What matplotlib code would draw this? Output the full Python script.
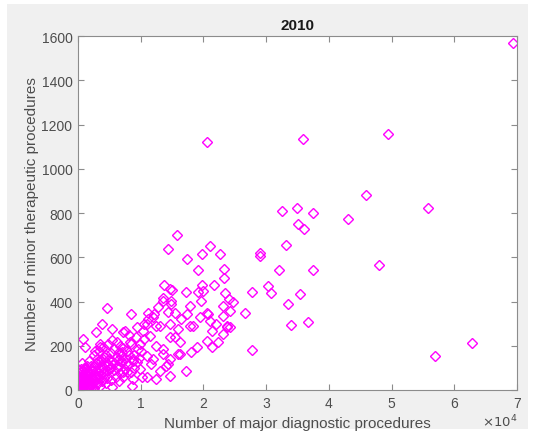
import numpy as np
import matplotlib.pyplot as plt
from matplotlib.patches import Rectangle
from matplotlib.ticker import FuncFormatter

plt.rcParams['font.family'] = ['Liberation Sans', 'DejaVu Sans']

# major diagnostic procedures (x 10^4) vs minor therapeutic procedures, 2010
# sparse hospitals at the top end
x_big = [6.93, 2.05, 3.59, 4.94, 4.59, 5.58, 3.26, 3.49, 3.74, 4.30,
         3.51, 3.60, 3.31, 2.90, 2.91, 4.80, 3.21, 3.74, 3.03, 3.08,
         2.78, 3.54, 3.35, 2.67, 3.40, 3.66, 2.77, 5.70, 6.28]
y_big = [1567, 1121, 1134, 1158, 881, 821, 810, 821, 799, 774,
         750, 726, 654, 619, 605, 565, 541, 541, 471, 437,
         444, 434, 390, 349, 292, 306, 181, 154, 212]

# middle cloud
x_mid = [1.58, 1.44, 2.10, 1.98, 2.26, 1.74, 1.92, 2.33, 2.33, 2.17,
         1.37, 1.47, 1.50, 1.97, 2.00, 1.92, 1.73, 1.35, 2.34, 2.41,
         2.47, 1.96, 1.49, 1.79, 1.28, 2.32, 0.47, 0.85, 1.11, 1.74,
         2.06, 2.32, 0.39, 0.29, 0.54, 0.72, 0.94, 1.10, 1.25, 1.47,
         1.60, 1.84, 2.13, 2.37, 0.085, 0.11, 0.35, 0.67, 0.99, 1.36,
         1.63, 1.89, 2.05, 2.24, 1.73, 0.94, 1.20, 1.41, 1.47, 1.02,
         0.86, 0.72, 0.51, 0.40, 2.08, 2.10, 2.38, 2.32, 2.13, 2.42,
         2.42, 1.21, 1.43, 1.20, 1.36, 1.49, 1.65, 1.79, 1.31, 0.75,
         1.15, 1.47, 1.63, 0.83, 1.25, 1.36, 1.10, 1.60, 0.88, 1.17,
         1.44, 0.99, 1.31, 0.78, 1.10, 0.88, 1.25, 1.47, 0.27, 0.62,
         0.70, 0.35, 1.12, 1.55, 1.95, 2.20, 1.55, 1.80, 1.05]
y_mid = [700, 637, 649, 613, 613, 592, 544, 547, 506, 476,
         476, 456, 453, 476, 449, 442, 442, 417, 438, 411,
         399, 402, 401, 381, 374, 378, 371, 343, 347, 343,
         347, 336, 298, 264, 276, 261, 283, 298, 291, 298,
         276, 291, 268, 291, 230, 193, 193, 200, 208, 185,
         163, 193, 223, 216, 87, 125, 140, 110, 140, 57,
         19, 80, 95, 140, 343, 313, 283, 253, 196, 358,
         283, 343, 351, 329, 404, 389, 321, 291, 291, 268,
         245, 238, 216, 216, 200, 163, 155, 163, 140, 118,
         118, 95, 87, 80, 57, 50, 50, 65, 178, 216,
         170, 208, 320, 350, 330, 300, 240, 170, 300]

# dense group of small hospitals near the origin
x_small = [0.01, 0.02, 0.03, 0.02, 0.04, 0.05, 0.06, 0.03, 0.08, 0.07,
           0.10, 0.09, 0.12, 0.11, 0.05, 0.14, 0.15, 0.13, 0.08, 0.17,
           0.18, 0.20, 0.16, 0.22, 0.19, 0.24, 0.25, 0.21, 0.27, 0.28,
           0.30, 0.26, 0.32, 0.33, 0.29, 0.35, 0.36, 0.31, 0.38, 0.40,
           0.37, 0.42, 0.44, 0.41, 0.46, 0.48, 0.45, 0.50, 0.52, 0.55,
           0.53, 0.58, 0.60, 0.57, 0.63, 0.65, 0.62, 0.68, 0.70, 0.72,
           0.75, 0.78, 0.80, 0.05, 0.07, 0.10, 0.04, 0.12, 0.15, 0.18,
           0.06, 0.14, 0.23, 0.30, 0.38, 0.45, 0.52, 0.60, 0.67, 0.35,
           0.42, 0.25, 0.02, 0.01, 0.03, 0.09, 0.20, 0.26, 0.33, 0.40,
           0.48, 0.55, 0.85, 0.90, 0.95, 0.88, 0.92, 1.00, 1.05, 0.82,
           1.03, 0.98, 0.75, 0.85, 0.65, 0.55, 0.72,
           0.02, 0.04, 0.06, 0.08, 0.10, 0.12, 0.13, 0.16, 0.18, 0.20,
           0.22, 0.03, 0.07, 0.11, 0.15, 0.24, 0.28, 0.32, 0.34, 0.43,
           0.47, 0.50, 0.58, 0.63, 0.68, 0.77, 0.82, 0.90]
y_small = [2, 5, 8, 15, 3, 12, 20, 25, 10, 30,
           5, 18, 25, 40, 40, 12, 35, 55, 50, 20,
           45, 30, 65, 55, 75, 40, 70, 90, 60, 85,
           50, 105, 75, 100, 120, 65, 90, 140, 110, 80,
           130, 100, 125, 150, 90, 115, 160, 140, 105, 130,
           165, 120, 150, 185, 135, 170, 100, 155, 125, 190,
           145, 175, 115, 60, 85, 70, 95, 100, 110, 130,
           120, 80, 15, 25, 40, 30, 45, 60, 75, 20,
           55, 10, 40, 20, 70, 100, 110, 160, 175, 195,
           210, 225, 210, 160, 185, 130, 240, 175, 230, 250,
           265, 145, 95, 80, 40, 15, 60,
           30, 50, 5, 35, 55, 8, 30, 45, 10, 60,
           25, 45, 65, 80, 90, 85, 30, 55, 130, 75,
           55, 95, 90, 110, 130, 120, 160, 100]

major_diag = np.array(x_big + x_mid + x_small) * 1e4
minor_ther = np.array(y_big + y_mid + y_small)

fig = plt.figure(figsize=(5.35, 4.35), dpi=100)
fig.patch.set_facecolor('white')
# grey window panel behind the axes
fig.patches.append(Rectangle((7 / 535, 5 / 435), 521 / 535, 425 / 435,
                             transform=fig.transFigure, facecolor='#f0f0f0',
                             edgecolor='none', zorder=-10))

ax = fig.add_axes([78 / 535, 44 / 435, 439 / 535, 354 / 435])
ax.plot(major_diag, minor_ther, linestyle='none', marker='D', markersize=5.2,
        markerfacecolor='none', markeredgecolor='#ff00ff', markeredgewidth=1.0)

ax.set_xlim(0, 7e4)
ax.set_ylim(0, 1600)
ax.set_xticks(np.arange(0, 7.5e4, 1e4))
ax.set_yticks(np.arange(0, 1700, 200))
ax.xaxis.set_major_formatter(FuncFormatter(lambda v, p: '%d' % round(v / 1e4)))

grey = '#4d4d4d'
for s in ax.spines.values():
    s.set_color('#8c8c8c')
    s.set_linewidth(0.8)
ax.tick_params(direction='in', length=4, width=0.8, color='#8c8c8c',
               labelcolor=grey, labelsize=10, top=True, right=True, pad=4)

ax.set_xlabel('Number of major diagnostic procedures', fontsize=11, color=grey, labelpad=5)
ax.set_ylabel('Number of minor therapeutic procedures', fontsize=11, color=grey, labelpad=2)
ax.set_title('2010', fontsize=11, fontweight='bold', color='#1a1a1a', pad=5)
ax.text(1.0, -0.102, r'$\times10^{4}$', transform=ax.transAxes, ha='right', va='baseline',
        fontsize=9.5, color=grey)

fig.savefig('out.png', dpi=100)
